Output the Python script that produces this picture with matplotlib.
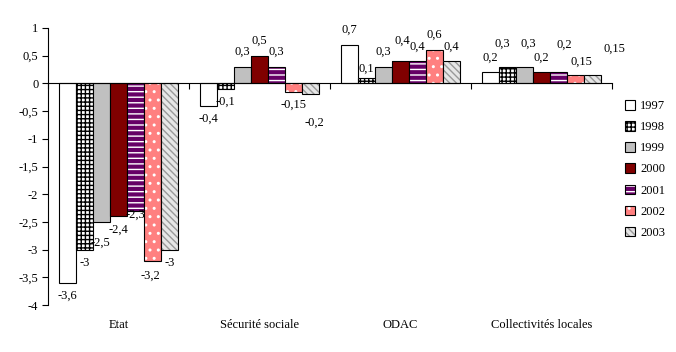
import matplotlib
matplotlib.use("Agg")
import matplotlib.pyplot as plt
from matplotlib.patches import Patch
from matplotlib.transforms import blended_transform_factory
import numpy as np

categories = ["Etat", "Sécurité sociale", "ODAC", "Collectivités locales"]
years = ["1997", "1998", "1999", "2000", "2001", "2002", "2003"]
v1997 = [-3.6, -0.4, 0.7, 0.2]
v1998 = [-3.0, -0.1, 0.1, 0.3]
v1999 = [-2.5, 0.3, 0.3, 0.3]
v2000 = [-2.4, 0.5, 0.4, 0.2]
v2001 = [-2.3, 0.3, 0.4, 0.2]
v2002 = [-3.2, -0.15, 0.6, 0.15]
v2003 = [-3.0, -0.2, 0.4, 0.15]
series = [v1997, v1998, v1999, v2000, v2001, v2002, v2003]

# face, hatch colour, hatch
styles = [
    ("white", "black", None),
    ("white", "black", "++++"),
    ("#C0C0C0", "#C0C0C0", None),
    ("#800000", "#800000", None),
    ("#660066", "white", "---"),
    ("#FF8080", "white", ".."),
    ("#E6E6E6", "#999999", "\\\\\\\\\\"),
]

# label nudges in pixels (group, series) -> (dx, dy)
nudge = {
    (0, 2): (-1, -21), (0, 4): (0, -4), (0, 5): (-2, -15),
    (1, 6): (4, -28),
    (2, 1): (0, 9), (2, 3): (2, 21),
    (3, 1): (-5, 23), (3, 2): (4, 23), (3, 4): (6, 28), (3, 5): (6, 13), (3, 6): (22, 26),
}

plt.rcParams["font.family"] = ["Liberation Serif", "DejaVu Serif"]
plt.rcParams["font.size"] = 9
plt.rcParams["hatch.linewidth"] = 1.0

fig = plt.figure(figsize=(6.76, 3.52), dpi=100)
ax = fig.add_axes([48 / 676, 1 - 305 / 352, 564 / 676, 277 / 352])

x = np.arange(len(categories))
w = 17 / 141
handles = []
for i, (vals, st) in enumerate(zip(series, styles)):
    pos = x + (i - 3) * w
    face, hcol, hatch = st
    ax.bar(pos, vals, w, color=face, edgecolor=hcol, hatch=hatch, linewidth=0)
    ax.bar(pos, vals, w, fill=False, edgecolor="black", linewidth=0.8)
    handles.append((Patch(facecolor=face, edgecolor=hcol, hatch=hatch, linewidth=0),
                    Patch(fill=False, edgecolor="black", linewidth=0.8)))
    for g, v in enumerate(vals):
        dx, dy = nudge.get((g, i), (0, 15 if v > 0 else -13))
        ax.annotate(f"{v:g}".replace(".", ","), (pos[g], v), xytext=(dx, dy),
                    textcoords="offset pixels", ha="center", va="center", zorder=10)

ax.set_xlim(-0.5, 3.5)
ax.set_ylim(-4, 1)
ax.set_yticks(np.arange(-4, 1.01, 0.5))
ax.set_yticklabels([f"{t:g}".replace(".", ",") for t in np.arange(-4, 1.01, 0.5)])
ax.set_xticks(np.arange(-0.5, 3.6, 1))
ax.set_xticklabels([])
ax.spines["bottom"].set_position(("data", 0))
ax.spines["top"].set_visible(False)
ax.spines["right"].set_visible(False)
ax.tick_params(axis="both", direction="out", length=4, width=0.8)
ax.tick_params(axis="y", pad=3)

tr = blended_transform_factory(ax.transData, ax.transAxes)
for g, c in enumerate(categories):
    ax.text(g, -0.072, c, transform=tr, ha="center", va="center")

fig.legend(handles, years, loc="upper left", bbox_to_anchor=(620 / 676, 1 - 95 / 352),
           frameon=False, handlelength=0.8, handleheight=0.8, handletextpad=0.4,
           labelspacing=0.72, borderaxespad=0)

fig.savefig("out.png", dpi=100)
